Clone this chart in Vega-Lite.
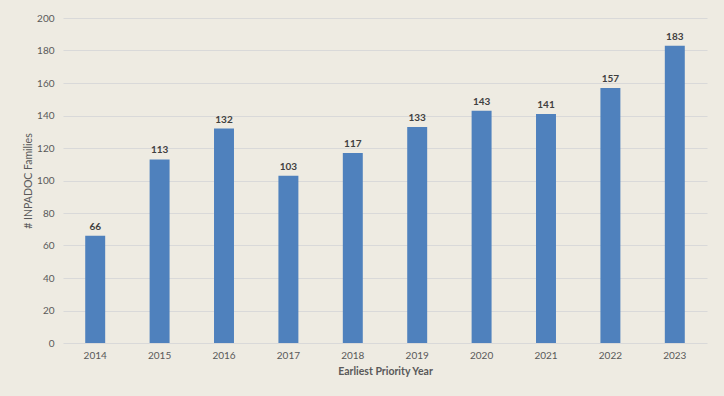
{
  "$schema": "https://vega.github.io/schema/vega-lite/v6.json",
  "width": 644,
  "height": 325,
  "autosize": {"type": "none"},
  "padding": {"left": 63, "top": 18, "right": 17, "bottom": 53},
  "background": "#eeebe2",
  "data": {"values": [
    {"year": "2014", "families": 66},
    {"year": "2015", "families": 113},
    {"year": "2016", "families": 132},
    {"year": "2017", "families": 103},
    {"year": "2018", "families": 117},
    {"year": "2019", "families": 133},
    {"year": "2020", "families": 143},
    {"year": "2021", "families": 141},
    {"year": "2022", "families": 157},
    {"year": "2023", "families": 183}
  ]},
  "encoding": {
    "x": {
      "field": "year", "type": "ordinal",
      "scale": {"paddingInner": 0, "paddingOuter": 0},
      "axis": {"title": "Earliest Priority Year", "labelAngle": 0, "ticks": false, "domain": false, "labelPadding": 7, "titlePadding": 6, "titleFontWeight": "bold"}
    },
    "y": {
      "field": "families", "type": "quantitative",
      "scale": {"domain": [0, 200]},
      "axis": {"title": "# INPADOC Families", "values": [0,20,40,60,80,100,120,140,160,180,200], "labelOverlap": false, "ticks": false, "domain": false, "labelPadding": 9, "titlePadding": 3, "gridColor": "#d9d9d9", "titleFontWeight": "normal"}
    }
  },
  "layer": [
    {"mark": {"type": "bar", "color": "#4f81bd", "width": {"band": 0.31}}},
    {"mark": {"type": "text", "dy": -9, "fontWeight": "bold", "fontSize": 10, "color": "#404040", "font": "Lato"}, "encoding": {"text": {"field": "families"}}}
  ],
  "config": {
    "view": {"stroke": null},
    "axis": {"labelFont": "Lato", "titleFont": "Lato", "labelFontSize": 10, "titleFontSize": 10.5, "labelColor": "#595959", "titleColor": "#595959"}
  }
}
